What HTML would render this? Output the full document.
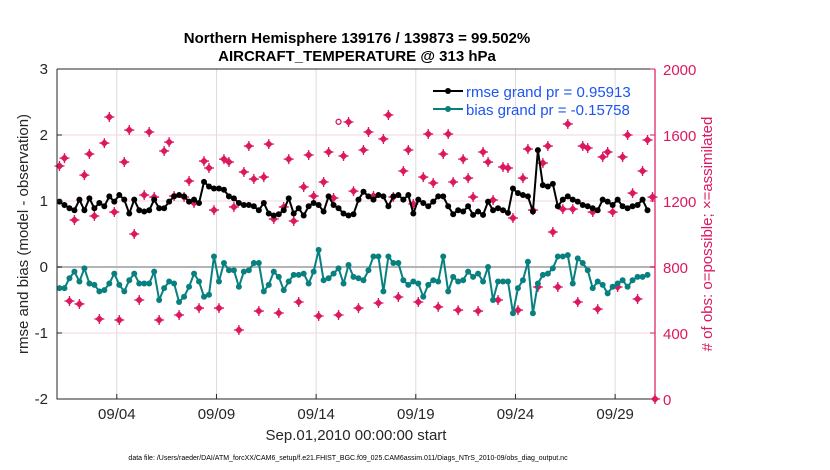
<!DOCTYPE html>
<html><head><meta charset="utf-8"><style>
body{margin:0;background:#fff;}
svg{display:block;font-family:"Liberation Sans",Arial,sans-serif;}
</style></head><body>
<svg id="chart" width="830" height="470" viewBox="0 0 830 470" xmlns="http://www.w3.org/2000/svg">
<g id="grid"></g>
<g id="marks"></g>
<g id="axes"></g>
</svg>
<script>
const xTickLabels=["09/04","09/09","09/14","09/19","09/24","09/29"];
const xTickDays=[3,8,13,18,23,28];
const yLeftTicks=[-2,-1,0,1,2,3];
const yRightTicks=[0,400,800,1200,1600,2000];
const rmse=[0.99,0.94,0.89,0.86,1.02,0.86,1.04,0.89,0.97,0.92,1.07,0.99,1.09,1.02,0.81,1.02,0.86,0.84,0.86,1.02,0.89,0.89,0.99,1.07,1.09,1.07,0.99,1.02,0.97,1.29,1.22,1.19,1.19,1.17,1.07,1.04,0.97,0.94,0.94,
0.92,0.86,0.97,0.81,0.78,0.8,0.86,1.04,0.81,0.89,0.78,0.92,0.97,0.94,0.84,1.07,0.94,0.89,0.81,0.78,0.8,1.02,1.14,1.07,1.02,1.09,1.07,0.92,1.07,1.09,1.02,1.09,0.81,1.02,0.97,0.92,0.99,1.07,1.07,0.92,
0.8,0.86,0.84,0.92,0.79,0.84,0.79,0.99,0.86,0.89,0.86,0.82,1.19,1.12,1.09,1.07,0.84,1.77,1.24,1.22,1.26,0.92,1.02,1.07,1.02,0.99,0.94,0.92,0.89,0.86,1.02,0.99,0.94,1.02,0.92,0.89,0.92,0.94,1.02,0.86];
const bias=[-0.32,-0.32,-0.17,-0.07,-0.22,-0.02,-0.25,-0.27,-0.37,-0.35,-0.25,-0.1,-0.27,-0.37,-0.2,-0.1,-0.25,-0.25,-0.25,-0.07,-0.5,-0.32,-0.22,-0.25,-0.53,-0.45,-0.3,-0.1,-0.22,-0.45,-0.42,0.16,-0.22,0.06,-0.05,-0.05,-0.3,-0.07,-0.05,0.06,
0.06,-0.37,-0.27,-0.07,-0.15,-0.35,-0.22,-0.12,-0.12,-0.1,-0.25,-0.07,0.26,-0.2,-0.17,-0.1,-0.02,-0.25,0.03,-0.15,-0.17,-0.2,-0.05,0.16,0.16,-0.37,0.16,0.06,0.06,-0.2,-0.27,-0.22,-0.25,-0.45,-0.27,-0.2,-0.22,0.16,-0.37,-0.15,
-0.22,-0.2,-0.07,-0.15,-0.1,-0.22,0.0,-0.5,-0.22,-0.22,-0.22,-0.7,-0.32,-0.2,0.08,-0.7,-0.25,-0.12,-0.1,-0.02,0.16,0.16,0.18,-0.25,0.13,0.06,-0.05,-0.32,-0.22,-0.27,-0.4,-0.3,-0.25,-0.2,-0.3,-0.2,-0.15,-0.15,-0.12];
const nAssim=[1412,1460,594,1085,576,1357,1485,1109,485,1551,1709,1133,479,1436,1630,1000,600,1236,1618,1224,479,1503,1557,1230,509,1224,1321,1188,551,1442,1400,1145,551,1454,1436,1164,418,1376,1533,1333,533,
1345,1545,1091,521,1164,1454,1079,588,1285,1479,1230,503,1315,1497,1218,509,1473,1679,1260,551,1509,1618,1230,582,1576,1721,1224,618,1382,1509,1182,588,1345,1606,1309,558,1485,1606,1315,539,
1454,1339,1224,533,1497,1436,1206,600,1406,1400,1097,539,1339,1515,1145,679,1430,1533,1012,679,1151,1667,1151,588,1533,1521,1133,545,1467,1497,1133,679,1467,1600,1248,606,1382,1570,1224,0];
const possibleExtra=[[56,1680]];

const NS="http://www.w3.org/2000/svg";
const X0=57,X1=655,Y0=69,Y1=399;
const xS=d=>X0+(d/30)*(X1-X0);
const yL=v=>Y1-(v+2)/5*(Y1-Y0);
const yR=v=>Y1-v/2000*(Y1-Y0);
const tOf=(i,n)=> i===n-1 && n===nAssim.length ? 30 : 0.125+i*0.25;
function mk(tag,attrs,parent,txt){const e=document.createElementNS(NS,tag);for(const k in attrs)e.setAttribute(k,attrs[k]);if(txt!==undefined)e.textContent=txt;parent.appendChild(e);return e;}
const grid=document.getElementById('grid'),marks=document.getElementById('marks'),axes=document.getElementById('axes');
const PINK="#dc1860",TEAL="#098080";
xTickDays.forEach((d,i)=>{const l=mk('line',{x1:xS(d),x2:xS(d),y1:Y0,y2:Y1,stroke:'#dcdcdc','stroke-width':1},grid);

});
yLeftTicks.forEach(v=>{const l=mk('line',{x1:X0,x2:X1,y1:yL(v),y2:yL(v),stroke:'#f0d6e0','stroke-width':1},grid);

});
const zl=mk('line',{x1:X0,x2:X1,y1:yL(0),y2:yL(0),stroke:'#b4b4b4','stroke-width':2},grid);


function star(x,y,name){const g=mk('g',{},marks);


mk('path',{d:`M${x-4},${y}L${x},${y-4}L${x+4},${y}L${x},${y+4}Z`,fill:PINK},g);
mk('path',{d:`M${x-5},${y}H${x+5}M${x},${y-5}V${y+5}`,stroke:PINK,'stroke-width':1.3},g);}
nAssim.forEach((c,i)=>star(xS(tOf(i,nAssim.length)),yR(c),'assimilated-obs-marker'));
possibleExtra.forEach(p=>{const c=mk('circle',{cx:xS(tOf(p[0],999)),cy:yR(p[1]),r:2.5,fill:'none',stroke:PINK,'stroke-width':1.3},marks);

});
function series(arr,color,name){const pts=arr.map((v,i)=>[xS(0.125+i*0.25),yL(v)]);
const pl=mk('polyline',{points:pts.map(p=>p.join(',')).join(' '),fill:'none',stroke:color,'stroke-width':2},marks);


pts.forEach(p=>{const c=mk('circle',{cx:p[0],cy:p[1],r:3,fill:color},marks);

});}
series(rmse,'#000','rmse');
series(bias,TEAL,'bias');
const fr=mk('path',{d:`M${X0},${Y0}H${X1}M${X0},${Y0}V${Y1}H${X1}`,stroke:'#262626','stroke-width':1,fill:'none'},axes);


const ra=mk('line',{x1:X1,x2:X1,y1:Y0,y2:Y1,stroke:PINK,'stroke-width':1.2},axes);


xTickDays.forEach((d,i)=>{mk('line',{x1:xS(d),x2:xS(d),y1:Y1,y2:Y1-5,stroke:'#262626'},axes);
const t=mk('text',{x:xS(d),y:Y1+20,'text-anchor':'middle','font-size':15,fill:'#262626'},axes,xTickLabels[i]);

});
yLeftTicks.forEach(v=>{mk('line',{x1:X0,x2:X0+5,y1:yL(v),y2:yL(v),stroke:'#262626'},axes);
const t=mk('text',{x:X0-9,y:yL(v)+5,'text-anchor':'end','font-size':15,fill:'#262626'},axes,String(v));

});
yRightTicks.forEach(v=>{mk('line',{x1:X1,x2:X1-5,y1:yR(v),y2:yR(v),stroke:PINK},axes);
const t=mk('text',{x:X1+8,y:yR(v)+6,'font-size':15,fill:PINK},axes,String(v));

});
</script>
<svg style="position:absolute;left:0;top:0" width="830" height="470">
<text x="357" y="43" text-anchor="middle" font-size="15" font-weight="bold" fill="#000">Northern Hemisphere 139176 / 139873 = 99.502%</text>
<text x="357" y="61" text-anchor="middle" font-size="15" font-weight="bold" fill="#000">AIRCRAFT_TEMPERATURE @ 313 hPa</text>
<text transform="translate(28,234) rotate(-90)" text-anchor="middle" font-size="15" fill="#262626">rmse and bias (model - observation)</text>
<text transform="translate(712,234) rotate(-90)" text-anchor="middle" font-size="15" fill="#dc1860"># of obs: o=possible; ×=assimilated</text>
<text x="356" y="440" text-anchor="middle" font-size="15" fill="#262626">Sep.01,2010 00:00:00 start</text>
<text x="348" y="460" text-anchor="middle" font-size="7" fill="#000">data file: /Users/raeder/DAI/ATM_forcXX/CAM6_setup/f.e21.FHIST_BGC.f09_025.CAM6assim.011/Diags_NTrS_2010-09/obs_diag_output.nc</text>
<g>
<line x1="433" x2="463" y1="91" y2="91" stroke="#000" stroke-width="2"/><circle cx="448" cy="91" r="3" fill="#000"/>
<text x="466" y="97" font-size="15" fill="#1c55f0">rmse grand pr = 0.95913</text></g>
<g>
<line x1="433" x2="463" y1="109" y2="109" stroke="#098080" stroke-width="2"/><circle cx="448" cy="109" r="3" fill="#098080"/>
<text x="466" y="115" font-size="15" fill="#1c55f0">bias grand pr = -0.15758</text></g>
</svg>
</body></html>
